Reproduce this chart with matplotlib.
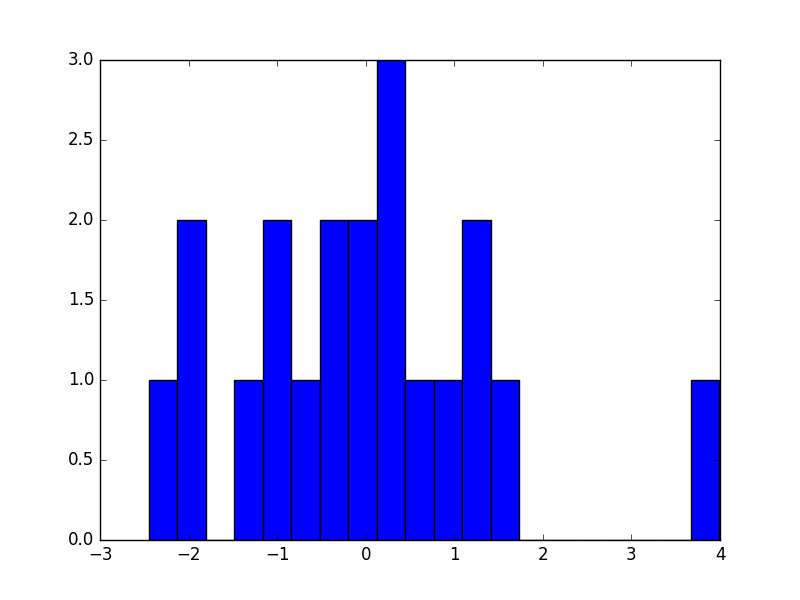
import numpy as np
import matplotlib
matplotlib.use("Agg")
import matplotlib.pyplot as plt

plt.style.use('classic')

# histogram: 20 bins between data min and max
data_min = -2.45
data_max = 3.99
counts = [1, 2, 0, 1, 2, 1, 2, 2, 3, 1, 1, 2, 1, 0, 0, 0, 0, 0, 0, 1]

edges = np.linspace(data_min, data_max, len(counts) + 1)

fig, ax = plt.subplots(figsize=(8, 6), dpi=100)
ax.hist(edges[:-1], bins=edges, weights=counts)
fig.savefig("out.png")
